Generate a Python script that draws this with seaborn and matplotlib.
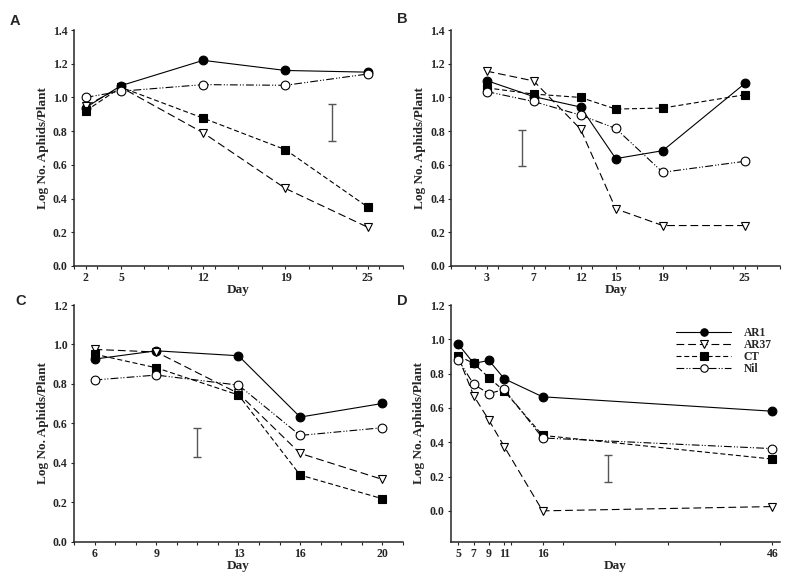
import numpy as np
import pandas as pd
import matplotlib
matplotlib.use('Agg')
import matplotlib.pyplot as plt
import seaborn as sns

sns.set_style('ticks')
plt.rcParams['font.family'] = ['Liberation Serif', 'DejaVu Serif']
plt.rcParams['font.weight'] = 'bold'
plt.rcParams['axes.labelweight'] = 'bold'

# 各处理（品系）
treatments = ['AR1', 'AR37', 'CT', 'Nil']

# 面板 A：取样位置与刻度标签
days_a = [2, 5, 12, 19, 26]
ticklabels_a = ['2', '5', '12', '19', '25']
ar1_a = [0.94, 1.07, 1.22, 1.16, 1.15]
ar37_a = [0.95, 1.06, 0.79, 0.46, 0.23]
ct_a = [0.92, 1.06, 0.877, 0.69, 0.35]
nil_a = [1.00, 1.037, 1.076, 1.072, 1.139]
err_a = (23.0, 0.74, 0.96)

# 面板 B
days_b = [3, 7, 11, 14, 18, 25]
ticklabels_b = ['3', '7', '12', '15', '19', '25']
ar1_b = [1.10, 1.005, 0.943, 0.637, 0.684, 1.083]
ar37_b = [1.156, 1.098, 0.812, 0.339, 0.24, 0.24]
ct_b = [1.057, 1.02, 1.0, 0.931, 0.937, 1.016]
nil_b = [1.035, 0.976, 0.895, 0.816, 0.556, 0.621]
err_b = (6.0, 0.596, 0.808)

# 面板 C
days_c = [6, 9, 13, 16, 20]
ticklabels_c = ['6', '9', '13', '16', '20']
ar1_c = [0.926, 0.968, 0.943, 0.632, 0.701]
ar37_c = [0.975, 0.962, 0.752, 0.448, 0.316]
ct_c = [0.951, 0.882, 0.744, 0.338, 0.218]
nil_c = [0.82, 0.845, 0.794, 0.539, 0.578]
err_c = (11.0, 0.428, 0.578)

# 面板 D
days_d = [5, 7, 9, 11, 16, 46]
ticklabels_d = ['5', '7', '9', '11', '16', '46']
ar1_d = [0.971, 0.86, 0.877, 0.77, 0.665, 0.581]
ar37_d = [0.897, 0.671, 0.528, 0.374, 0.0, 0.025]
ct_d = [0.903, 0.86, 0.776, 0.698, 0.44, 0.302]
nil_d = [0.881, 0.737, 0.684, 0.708, 0.425, 0.363]
err_d = (24.6, 0.168, 0.327)

# 线型与标记
styles = {
    'AR1': dict(marker='o', markerfacecolor='black', linestyle='-'),
    'AR37': dict(marker='v', markerfacecolor='white', linestyle=(0, (7, 3.5))),
    'CT': dict(marker='s', markerfacecolor='black', linestyle=(0, (4.5, 2.5))),
    'Nil': dict(marker='o', markerfacecolor='white', linestyle=(0, (7, 2, 1, 1.5, 1, 2))),
}


def draw_panel(ax, days, series, ticklabels, err, xlim, ylim, yticks, minor):
    handles = []
    for name, vals in zip(treatments, series):
        df = pd.DataFrame({'day': days, 'value': vals})
        st = styles[name]
        sns.lineplot(data=df, x='day', y='value', ax=ax, color='black',
                     linewidth=0.8, markersize=6.3, markeredgecolor='black',
                     markeredgewidth=0.8, sort=False, estimator=None, **st)
        handles.append(ax.lines[-1])
    # 误差条（LSD）
    ax.errorbar([err[0]], [(err[1] + err[2]) / 2], yerr=[(err[2] - err[1]) / 2],
                fmt='none', ecolor='#555555', elinewidth=1.0, capsize=3, capthick=1.0)
    ax.set_xlim(*xlim)
    ax.set_ylim(*ylim)
    ax.set_xticks(days)
    ax.set_xticklabels(ticklabels)
    ax.set_xticks(minor, minor=True)
    ax.set_yticks(yticks)
    ax.set_yticklabels(['%.1f' % v for v in yticks])
    ax.set_xlabel('Day', fontsize=9.5, labelpad=0)
    ax.set_ylabel('Log No. Aphids/Plant', fontsize=9.5, labelpad=3)
    ax.tick_params(axis='both', which='major', labelsize=8.5, length=2.5, width=0.8, pad=2)
    ax.tick_params(axis='x', which='minor', length=2, width=0.8)
    for s in ['left', 'bottom']:
        ax.spines[s].set_linewidth(1.1)
    sns.despine(ax=ax)
    if ax.get_legend() is not None:
        ax.get_legend().remove()
    return handles


fig = plt.figure(figsize=(7.87, 5.76), dpi=100)
ax_a = fig.add_axes([0.0940, 0.5382, 0.4180, 0.4097])
ax_b = fig.add_axes([0.5736, 0.5382, 0.4176, 0.4097])
ax_c = fig.add_axes([0.0940, 0.0595, 0.4180, 0.4109])
ax_d = fig.add_axes([0.5727, 0.0595, 0.4184, 0.4109])

draw_panel(ax_a, days_a, [ar1_a, ar37_a, ct_a, nil_a], ticklabels_a, err_a,
           (1, 29), (0, 1.4), np.arange(0, 1.41, 0.2), np.arange(1, 30, 2))
draw_panel(ax_b, days_b, [ar1_b, ar37_b, ct_b, nil_b], ticklabels_b, err_b,
           (0, 28), (0, 1.4), np.arange(0, 1.41, 0.2), np.arange(0, 29, 2))
draw_panel(ax_c, days_c, [ar1_c, ar37_c, ct_c, nil_c], ticklabels_c, err_c,
           (5, 21), (0, 1.2), np.arange(0, 1.21, 0.2), np.arange(5, 22, 1))
handles = draw_panel(ax_d, days_d, [ar1_d, ar37_d, ct_d, nil_d], ticklabels_d, err_d,
                     (4, 47), (-0.18, 1.2), np.arange(0, 1.21, 0.2), np.linspace(5, 46, 7))

ax_d.legend(handles, treatments, loc='upper right', bbox_to_anchor=(1.0, 0.94),
            frameon=False, handlelength=4.8, numpoints=1, markerscale=0.85,
            labelspacing=0.0, handletextpad=1.1, borderpad=0.2,
            prop={'weight': 'bold', 'size': 8.3})

# 面板字母
for letter, (x, y) in zip(['A', 'B', 'C', 'D'],
                          [(10, 25), (397, 23), (15, 305), (397, 305)]):
    fig.text(x / 787, 1 - y / 576, letter, fontsize=10.5, fontweight='bold',
             family=['Liberation Sans', 'DejaVu Sans'], ha='left', va='baseline')

fig.savefig('out.png', dpi=100)
